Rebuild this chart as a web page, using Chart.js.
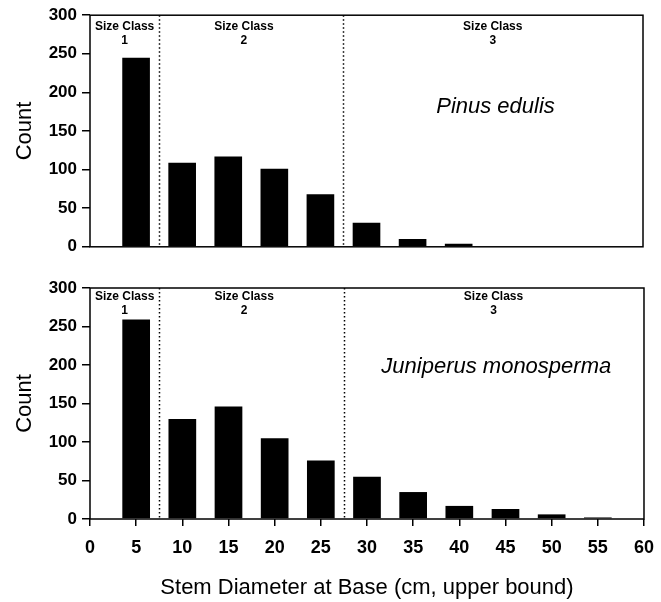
<!DOCTYPE html>
<html>
<head>
<meta charset="utf-8">
<script src="https://cdn.jsdelivr.net/npm/chart.js@4.4.1/dist/chart.umd.min.js"></script>
<style>
  html, body { margin: 0; padding: 0; background: #fff; overflow: hidden; }
  #wrap { position: relative; width: 661px; height: 602px; }
  .panel { position: absolute; left: 0; width: 661px; }
  #top { top: 0; height: 262px; }
  #bottom { top: 262px; height: 340px; width: 665px; }
</style>
</head>
<body>
<div id="wrap">
  <div class="panel" id="top"><canvas id="pinusChart"></canvas></div>
  <div class="panel" id="bottom"><canvas id="juniperusChart"></canvas></div>
</div>
<script>
// stem diameter class (upper bound, cm) and counts per class
const diameters = [5, 10, 15, 20, 25, 30, 35, 40, 45, 50, 55];
const pinusCounts = [245, 109, 117, 101, 68, 31, 10, 4, 1, 0, 0];
const juniperusCounts = [259, 130, 146, 105, 76, 55, 35, 17, 13, 6, 2];

// size class boundaries and label centres (x in cm)
const classBounds = [7.5, 27.5];
const classNums = ["1", "2", "3"];
const classCenters = [3.75, 16.7, 43.7];

const FONT = '"Liberation Sans", Arial, Helvetica, sans-serif';
Chart.defaults.font.family = FONT;
Chart.defaults.color = "#000";

const decor = {
  id: "decor",
  afterDatasetsDraw(chart, args, opts) {
    const { ctx, chartArea: a, scales: { x, y } } = chart;
    ctx.save();
    // dotted size-class dividers
    ctx.strokeStyle = "#000";
    ctx.lineWidth = 1.5;
    ctx.setLineDash([1.5, 2.5]);
    for (const b of classBounds) {
      const px = Math.round(x.getPixelForValue(b)) + 0.5;
      ctx.beginPath();
      ctx.moveTo(px, a.top);
      ctx.lineTo(px, a.bottom);
      ctx.stroke();
    }
    ctx.setLineDash([]);
    // size-class labels
    ctx.fillStyle = "#000";
    ctx.textAlign = "center";
    ctx.textBaseline = "middle";
    ctx.font = `bold 12px ${FONT}`;
    classCenters.forEach((c, i) => {
      const px = x.getPixelForValue(c);
      ctx.fillText("Size Class", px, a.top + opts.labelTop);
      ctx.fillText(classNums[i], px, a.top + opts.labelTop + 14);
    });
    // species name
    ctx.font = `italic 22px ${FONT}`;
    ctx.fillText(opts.species, x.getPixelForValue(opts.at[0]), y.getPixelForValue(opts.at[1]));
    // frame
    ctx.lineWidth = 1.5;
    ctx.strokeRect(a.left, a.top, a.right - a.left, a.bottom - a.top);
    ctx.restore();
  },
};

function makePanel(canvasId, counts, species, speciesAt, showX) {
  const xScale = {
    type: "linear",
    min: 0,
    max: 60,
    offset: false,
    display: showX,
    border: { display: false },
    grid: { display: true, offset: false, drawOnChartArea: false, drawTicks: true, tickLength: 7, color: "#000", lineWidth: 1.5 },
    ticks: { stepSize: 5, padding: 11, color: "#000", font: { size: 18, weight: "bold" } },
    title: {
      display: true,
      text: "Stem Diameter at Base (cm, upper bound)",
      color: "#000",
      font: { size: 22 },
      padding: { top: 0, bottom: 1 },
    },
  };
  if (showX) xScale.afterFit = (s) => { s.height = 83; };
  return new Chart(document.getElementById(canvasId), {
    type: "bar",
    data: {
      datasets: [{
        data: diameters.map((d, i) => ({ x: d, y: counts[i] })),
        backgroundColor: "#000",
        borderWidth: 0,
        barPercentage: 0.6,
        categoryPercentage: 1,
      }],
    },
    options: {
      responsive: true,
      maintainAspectRatio: false,
      animation: false,
      layout: { padding: showX ? { left: 0, right: 18, top: 26, bottom: 0 } : { left: 0, right: 18, top: 14, bottom: 13 } },
      plugins: {
        legend: { display: false },
        tooltip: { enabled: false },
        decor: { species, at: speciesAt, labelTop: showX ? 9 : 11 },
      },
      scales: {
        x: xScale,
        y: {
          min: 0,
          max: 300,
          border: { display: false },
          grid: { display: true, drawOnChartArea: false, drawTicks: true, tickLength: 8, color: "#000", lineWidth: 1.5 },
          ticks: { stepSize: 50, padding: 5, color: "#000", font: { size: 17, weight: "bold" } },
          title: { display: true, text: "Count", color: "#000", font: { size: 22 }, padding: { top: 12, bottom: 0 } },
          afterFit: (s) => { s.width = 90; },
        },
      },
    },
    plugins: [decor],
  });
}

makePanel("pinusChart", pinusCounts, "Pinus edulis", [44, 181], false);
makePanel("juniperusChart", juniperusCounts, "Juniperus monosperma", [44, 197], true);
</script>
</body>
</html>
